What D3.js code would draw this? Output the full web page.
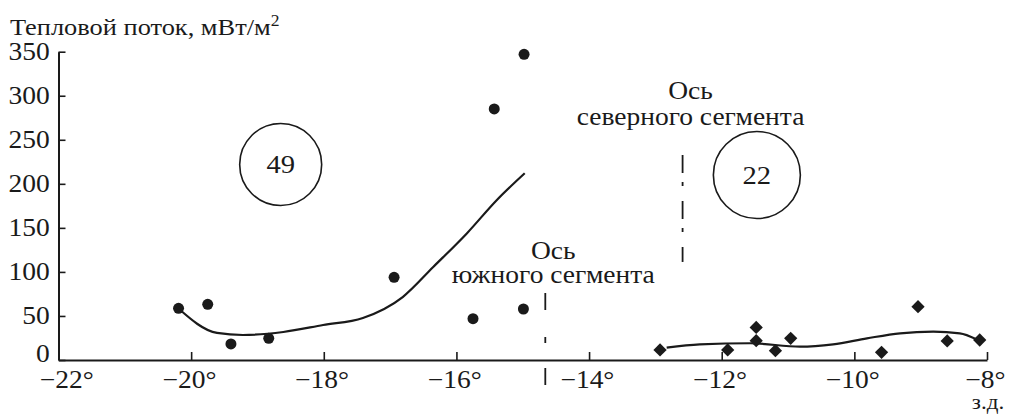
<!DOCTYPE html>
<html>
<head>
<meta charset="utf-8">
<script src="https://cdn.jsdelivr.net/npm/d3@7"></script>
<style>
  html, body { margin: 0; padding: 0; background: #fff; }
  svg { display: block; }
  text { font-family: "Liberation Serif", "DejaVu Serif", serif; fill: #1a1a1a; }
</style>
</head>
<body>
<svg id="chart" width="1009" height="414"></svg>
<script>
// ---- data ----
const xTicks = [-22, -20, -18, -16, -14, -12, -10, -8];
const yTicks = [0, 50, 100, 150, 200, 250, 300, 350];

// southern segment measurements (circles)
const southLon  = [-20.19, -19.75, -19.40, -18.83, -16.94, -15.75, -15.43, -14.98, -14.99];
const southFlux = [58.7, 63.2, 18.2, 24.6, 93.9, 46.9, 285, 347, 57.9];

// northern segment measurements (diamonds)
const northLon  = [-12.93, -11.91, -11.48, -11.48, -11.19, -10.96, -9.59, -9.04, -8.60, -8.11];
const northFlux = [11.4, 11.4, 37, 21.9, 10.6, 24.6, 8.7, 60.5, 21.6, 22.7];

// smoothed trend curves
const southFitLon  = [-20.20, -19.61, -19.22, -18.61, -18.01, -17.41, -16.81, -16.35, -15.84, -15.39, -14.97];
const southFitFlux = [59, 30.7, 28.4, 31.8, 39.7, 47.7, 71.5, 105.6, 144, 181.7, 212];
const northFitLon  = [-12.83, -12.33, -11.57, -10.82, -10.32, -9.81, -9.31, -8.81, -8.41, -8.16];
const northFitFlux = [14, 17.8, 19, 15.1, 17.8, 24.6, 30.3, 32.1, 30.3, 23.5];

// segment axes (dash-dot verticals)
const axisLon     = [-14.66, -12.59];
const axisTop     = [76, 232.7];
const axisBottom  = [-30.7, 111.3];

// station counts (circled numbers)
const countLabels = ["49", "22"];
const countLon    = [-18.65, -11.47];
const countFlux   = [222, 210];

const yTitle = "Тепловой поток, мВт/м";
const xUnit = "з.д.";

// ---- drawing ----
const svg = d3.select("#chart");
const ink = "#1a1a1a";
const SX = 1.1;   // horizontal stretch of lettering
const x = d3.scaleLinear().domain([-22, -8]).range([58.5, 987]);
const y = d3.scaleLinear().domain([0, 350]).range([360, 51.7]);
const FS = 25;

function txt(px, py, str, size, anchor) {
  const g = svg.append("g").attr("transform", `translate(${px},${py}) scale(${SX},1)`);
  return g.append("text").attr("text-anchor", anchor || "middle")
    .style("font-family", "'Liberation Serif', serif")
    .style("font-size", size + "px").text(str);
}

// x axis
const xAxis = d3.axisBottom(x).tickValues(xTicks).tickSizeInner(-8).tickSizeOuter(0)
  .tickFormat(d => (d < 0 ? "\u2212" : "") + Math.abs(d) + "°");
const gx = svg.append("g").attr("transform", `translate(0,${y(0)})`).call(xAxis);
gx.select(".domain").attr("stroke", ink).attr("stroke-width", 2);
gx.selectAll(".tick line").attr("stroke", ink).attr("stroke-width", 1.6)
  .attr("display", d => d === -22 ? "none" : null);
gx.selectAll(".tick text").attr("y", 28).attr("dy", 0)
  .attr("x", d => d === -22 ? 7 : -2)
  .attr("transform", `scale(${SX},1)`)
  .style("font-family", "'Liberation Serif', serif")
  .style("font-size", FS + "px").attr("fill", ink);

// y axis
const yAxis = d3.axisLeft(y).tickValues(yTicks).tickSizeInner(-7).tickSizeOuter(0).tickPadding(8);
const gy = svg.append("g").attr("transform", `translate(${x(-22)},0)`).call(yAxis);
gy.select(".domain").attr("stroke", ink).attr("stroke-width", 2);
gy.selectAll(".tick line").attr("stroke", ink).attr("stroke-width", 1.6);
gy.selectAll(".tick text").attr("dy", d => d === 0 ? "0.05em" : "0.32em")
  .attr("transform", `scale(${SX},1)`)
  .style("font-family", "'Liberation Serif', serif")
  .style("font-size", FS + "px").attr("fill", ink);
svg.selectAll("g").attr("font-family", null).attr("font-size", null);

// y title
const yt = txt(10, 35, yTitle, 24, "start");
yt.append("tspan").attr("dy", -9).style("font-size", "16px").text("2");

// x unit
txt(988, 409, xUnit, 21);

// trend curves
const line = d3.line().x(d => x(d[0])).y(d => y(d[1])).curve(d3.curveMonotoneX);
svg.append("path").datum(d3.zip(southFitLon, southFitFlux)).attr("d", line)
  .attr("fill", "none").attr("stroke", ink).attr("stroke-width", 2.2);
svg.append("path").datum(d3.zip(northFitLon, northFitFlux)).attr("d", line)
  .attr("fill", "none").attr("stroke", ink).attr("stroke-width", 2.2);

// segment axes
const dashes = ["17,27,6,25", "18,9,4,15"];
axisLon.forEach((lon, i) => {
  svg.append("line").attr("x1", x(lon)).attr("x2", x(lon))
    .attr("y1", y(axisTop[i])).attr("y2", y(axisBottom[i]))
    .attr("stroke", ink).attr("stroke-width", 1.8).attr("stroke-dasharray", dashes[i]);
});

// annotations
function label(lines, lon, fluxes) {
  lines.forEach((t, i) => txt(x(lon), y(fluxes[i]), t, FS));
}
label(["Ось", "южного сегмента"], -14.54, [114.5, 87]);
label(["Ось", "северного сегмента"], -12.47, [296, 267]);

// circled counts
const radii = [41, 43.5];
countLabels.forEach((t, i) => {
  const cx = x(countLon[i]), cy = y(countFlux[i]);
  svg.append("circle").attr("cx", cx).attr("cy", cy).attr("r", radii[i])
    .attr("fill", "none").attr("stroke", ink).attr("stroke-width", 1.6);
  txt(cx, cy + 9, t, 26);
});

// points
svg.append("g").selectAll("circle").data(d3.zip(southLon, southFlux)).join("circle")
  .attr("cx", d => x(d[0])).attr("cy", d => y(d[1])).attr("r", 5.5).attr("fill", ink);
const diamond = d3.symbol().type(d3.symbolSquare).size(88);
svg.append("g").selectAll("path").data(d3.zip(northLon, northFlux)).join("path")
  .attr("d", diamond)
  .attr("transform", d => `translate(${x(d[0])},${y(d[1])}) rotate(45)`)
  .attr("fill", ink);
</script>
</body>
</html>
